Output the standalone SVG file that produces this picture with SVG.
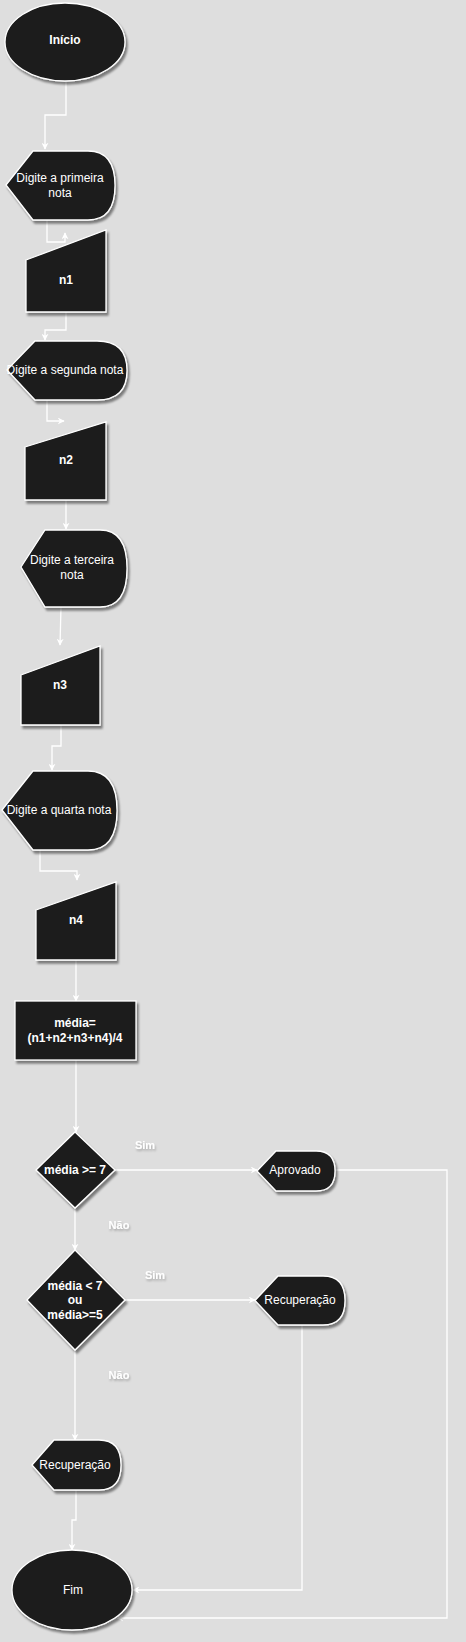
<svg xmlns="http://www.w3.org/2000/svg" width="466" height="1642" viewBox="0 0 466 1642">
<style>
.bg{fill:#dedede}
.shape{fill:#1a1a1a;stroke:#ffffff;stroke-width:1.3;filter:url(#sh)}
.edge{fill:none;stroke:#ffffff;stroke-width:1.3;marker-end:url(#arr)}
.t{font-family:"Liberation Sans",Arial,sans-serif;font-size:12px;fill:#ffffff;text-anchor:middle;dominant-baseline:central}
.b{font-weight:bold}
.lbl{font-family:"Liberation Sans",Arial,sans-serif;font-size:11px;font-weight:bold;fill:#ffffff;text-anchor:middle;dominant-baseline:central;filter:url(#tsh)}
</style>
<defs>
<filter id="sh" x="-20%" y="-20%" width="140%" height="140%">
<feDropShadow dx="2" dy="3" stdDeviation="1" flood-color="#000000" flood-opacity="0.45"/>
</filter>
<filter id="tsh" x="-30%" y="-30%" width="160%" height="160%">
<feDropShadow dx="1" dy="2" stdDeviation="1" flood-color="#000000" flood-opacity="0.25"/>
</filter>
<marker id="arr" viewBox="0 0 10 10" refX="9" refY="5" markerWidth="7" markerHeight="7" orient="auto" markerUnits="userSpaceOnUse">
<path d="M0,0 L10,5 L0,10 L3,5 Z" fill="#ffffff"/>
</marker>
</defs>
<rect class="bg" x="0" y="0" width="466" height="1642"/>

<g id="connectors">
<path class="edge" d="M66,82 V115 H45 V149"/>
<path class="edge" d="M47,220 V242 H65 V233"/>
<path class="edge" d="M66,312 V330 H45 V340"/>
<path class="edge" d="M47,400 V421 H64"/>
<path class="edge" d="M66,500 V529"/>
<path class="edge" d="M61,607 L60,645"/>
<path class="edge" d="M61,725 V746 H52 V770"/>
<path class="edge" d="M40,850 V871 H77 V880"/>
<path class="edge" d="M76,960 V1001"/>
<path class="edge" d="M76,1060 V1132"/>
<path class="edge" d="M115,1170 H257"/>
<path class="edge" d="M75,1208 V1250"/>
<path class="edge" d="M125,1300 H255"/>
<path class="edge" d="M75,1350 V1440"/>
<path class="edge" d="M76,1490 V1520 H72 V1550"/>
<path class="edge" d="M302,1325 V1590 H133"/>
<path class="edge" d="M335,1170 H447 V1618 H117"/>
</g>

<g id="labels">
<text class="lbl" x="145" y="1145">Sim</text>
<text class="lbl" x="119" y="1225">Não</text>
<text class="lbl" x="155" y="1275">Sim</text>
<text class="lbl" x="119" y="1375">Não</text>
</g>

<g id="inicio">
<ellipse class="shape" cx="65" cy="42" rx="60" ry="39"/>
<text class="t b" x="65" y="40">Início</text>
</g>

<g id="display1">
<path class="shape" d="M6,185 L33,151 L88,151 Q115,151 115,185.5 Q115,220 88,220 L33,220 Z"/>
<text class="t" x="60" y="178">Digite a primeira</text>
<text class="t" x="60" y="193">nota</text>
</g>

<g id="n1">
<path class="shape" d="M26,260 L106,230 L106,312 L26,312 Z"/>
<text class="t b" x="66" y="280">n1</text>
</g>

<g id="display2">
<path class="shape" d="M7,370 L35,341 L97,341 Q127,341 127,370.5 Q127,400 97,400 L35,400 Z"/>
<text class="t" x="65" y="370">Digite a segunda nota</text>
</g>

<g id="n2">
<path class="shape" d="M25,447 L106,422 L106,500 L25,500 Z"/>
<text class="t b" x="66" y="460">n2</text>
</g>

<g id="display3">
<path class="shape" d="M21,567 L45,530 L100,530 Q127,530 127,568.5 Q127,607 100,607 L45,607 Z"/>
<text class="t" x="72" y="560">Digite a terceira</text>
<text class="t" x="72" y="575">nota</text>
</g>

<g id="n3">
<path class="shape" d="M21,675 L100,646 L100,725 L21,725 Z"/>
<text class="t b" x="60" y="685">n3</text>
</g>

<g id="display4">
<path class="shape" d="M2,810 L33,771 L88,771 Q117,771 117,810.5 Q117,850 88,850 L33,850 Z"/>
<text class="t" x="59" y="810">Digite a quarta nota</text>
</g>

<g id="n4">
<path class="shape" d="M36,910 L116,882 L116,960 L36,960 Z"/>
<text class="t b" x="76" y="920">n4</text>
</g>

<g id="media">
<rect class="shape" x="15" y="1001" width="121" height="59"/>
<text class="t b" x="75" y="1023">média=</text>
<text class="t b" x="75" y="1038">(n1+n2+n3+n4)/4</text>
</g>

<g id="decisao1">
<path class="shape" d="M75,1132 L115,1170 L75,1208 L36,1170 Z"/>
<text class="t b" x="75" y="1170">média &gt;= 7</text>
</g>

<g id="aprovado">
<path class="shape" d="M257,1171 L276,1151 L316,1151 Q335,1151 335,1171 Q335,1191 316,1191 L276,1191 Z"/>
<text class="t" x="295" y="1170">Aprovado</text>
</g>

<g id="decisao2">
<path class="shape" d="M75,1250 L125,1300 L75,1350 L27,1300 Z"/>
<text class="t b" x="75" y="1286">média &lt; 7</text>
<text class="t b" x="75" y="1300">ou</text>
<text class="t b" x="75" y="1315">média&gt;=5</text>
</g>

<g id="recuperacao1">
<path class="shape" d="M255,1300.5 L278,1276 L323,1276 Q345,1276 345,1300.5 Q345,1325 323,1325 L278,1325 Z"/>
<text class="t" x="300" y="1300">Recuperação</text>
</g>

<g id="recuperacao2">
<path class="shape" d="M32,1465 L54,1440 L99,1440 Q121,1440 121,1465 Q121,1490 99,1490 L54,1490 Z"/>
<text class="t" x="75" y="1465">Recuperação</text>
</g>

<g id="fim">
<ellipse class="shape" cx="72" cy="1590" rx="60" ry="40"/>
<text class="t" x="73" y="1590">Fim</text>
</g>
</svg>
